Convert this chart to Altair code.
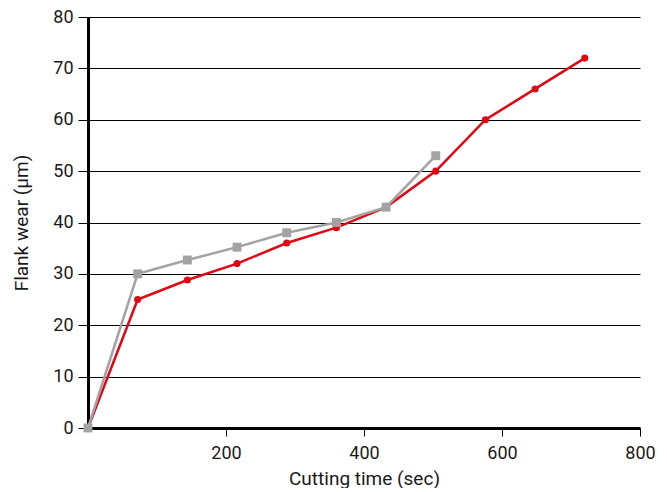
import altair as alt
import pandas as pd

time_red = [0, 72, 144, 216, 288, 360, 432, 504, 576, 648, 720]
wear_red = [0, 25, 28.8, 32, 36, 39, 43, 50, 60, 66, 72]
time_gray = [0, 72, 144, 216, 288, 360, 432, 504]
wear_gray = [0, 30, 32.7, 35.2, 38, 40, 43, 53]

red = pd.DataFrame({"t": time_red, "w": wear_red})
gray = pd.DataFrame({"t": time_gray, "w": wear_gray})

FONT = "Roboto"
RED = "#e30613"
GRAY = "#a3a3a3"
TXT = "#1a1a1a"

x = alt.X("t:Q", scale=alt.Scale(domain=[0, 800], nice=False),
          axis=alt.Axis(title="Cutting time (sec)", values=[200, 400, 600, 800],
                        grid=False, domain=True, domainColor="black", domainWidth=3,
                        tickColor="black", tickSize=8, labelFontSize=18, titleFontSize=19,
                        labelColor=TXT, titleColor=TXT, labelPadding=8, labelFlush=False,
                        titleFontWeight="normal", titlePadding=7, labelFont=FONT, titleFont=FONT))
y = alt.Y("w:Q", scale=alt.Scale(domain=[0, 80], nice=False),
          axis=alt.Axis(title="Flank wear (μm)", values=list(range(0, 81, 10)),
                        grid=True, gridColor="black", gridWidth=1, gridOpacity=1,
                        domain=True, domainColor="black", domainWidth=3,
                        tickColor="black", tickSize=10, labelFontSize=18, titleFontSize=19,
                        labelColor=TXT, titleColor=TXT, labelPadding=5, labelFlush=False,
                        titleFontWeight="normal", titlePadding=21, labelFont=FONT, titleFont=FONT))

red_line = alt.Chart(red).mark_line(color=RED, strokeWidth=2.5).encode(x=x, y=y)
red_pts = alt.Chart(red).mark_point(color=RED, filled=True, opacity=1, size=50, shape="circle").encode(x=x, y=y)
gray_line = alt.Chart(gray).mark_line(color=GRAY, strokeWidth=2.5).encode(x=x, y=y)
gray_pts = alt.Chart(gray).mark_point(color=GRAY, filled=True, opacity=1, size=80, shape="square").encode(x=x, y=y)

chart = alt.layer(red_line, red_pts, gray_line, gray_pts).properties(
    width=552, height=411,
    autosize=alt.AutoSizeParams(type="none"),
    padding={"left": 80, "top": 9, "right": 18, "bottom": 60},
).configure_view(stroke=None)

chart.save("out.html", embed_options={"renderer": "svg", "actions": False})
